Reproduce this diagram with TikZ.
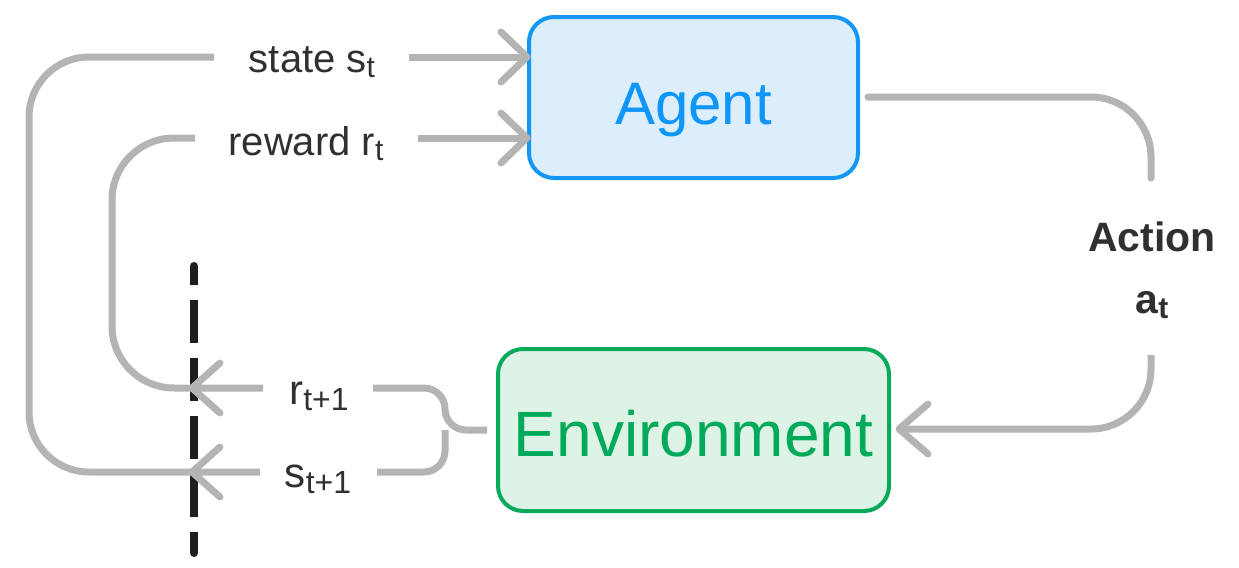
\documentclass[tikz,border=0pt]{standalone}
\usepackage{fontspec}
\setmainfont{Liberation Sans}
\definecolor{edge}{HTML}{B4B4B4}
\definecolor{ink}{HTML}{303030}
\definecolor{dashink}{HTML}{1E1E1E}
\definecolor{agentline}{HTML}{1496F5}
\definecolor{agentfill}{HTML}{DCEEFC}
\definecolor{agenttext}{HTML}{0F96F8}
\definecolor{envline}{HTML}{0AAA5A}
\definecolor{envfill}{HTML}{DCF3E6}
\definecolor{envtext}{HTML}{00AA5A}
% lowered subscript in a given size
\newcommand\lowsub[3]{\raisebox{-#2}{\fontsize{#1}{#1}\selectfont #3}}
\begin{document}
\begin{tikzpicture}[x=0.5pt,y=-0.5pt,
  conn/.style={draw=edge, line width=3.5pt},
  chev/.style={draw=edge, line width=3.5pt, line cap=round, line join=round},
  lbl/.style={text=ink, inner sep=0pt, anchor=base, font=\fontsize{20}{22}\selectfont},
  biglbl/.style={text=ink, inner sep=0pt, anchor=base, font=\fontsize{21}{23}\selectfont},
  actlbl/.style={text=ink, inner sep=0pt, anchor=base, font=\bfseries\fontsize{20.5}{22}\selectfont},
  agentbox/.style={draw=agentline, fill=agentfill, line width=2pt, rounded corners=12.5pt,
    minimum width=164.5pt, minimum height=80.5pt, text=agenttext,
    font=\fontsize{30}{31}\selectfont, text height=26.5pt, text depth=0pt},
  envbox/.style={draw=envline, fill=envfill, line width=2pt, rounded corners=12.5pt,
    minimum width=195.5pt, minimum height=81pt, text=envtext,
    font=\fontsize{32}{33}\selectfont, text height=26.4pt, text depth=0pt},
]
\useasboundingbox (0,0) rectangle (1239,568);

% time boundary
\coordinate (cutTop) at (194,266);
\coordinate (cutBot) at (194,553);
\draw[dashink, line width=4pt, dash pattern=on 21.5pt off 7.5pt, dash phase=12pt] (cutTop) -- (cutBot);
\fill[dashink] (cutTop) circle (2pt) (cutBot) circle (2pt);

% boxes
\node[agentbox] (agent) at (693.5,97.5) {Agent};
\node[envbox] (env) at (693.5,430) {Environment};

% labels
\node[lbl] (st) at (312,72) {state s\lowsub{15pt}{2.5pt}{t}};
\node[lbl] (rt) at (306,155) {reward r\lowsub{15pt}{2.5pt}{t}};
\node[biglbl] (rn) at (319,404) {r\lowsub{16pt}{3pt}{t+1}};
\node[biglbl] (sn) at (318,487) {s\lowsub{16pt}{3pt}{t+1}};
\node[actlbl] (act) at (1152,251) {Action};
\node[actlbl] (at) at (1152,313) {a\lowsub{15pt}{2.5pt}{t}};

% named points along the loops
\coordinate (stL) at (214,57);
\coordinate (stR) at (409,57);
\coordinate (rtL) at (195,138);
\coordinate (rtR) at (418,138);
\coordinate (rnL) at (263,388);
\coordinate (rnR) at (373,388);
\coordinate (snL) at (260,472);
\coordinate (snR) at (377,472);
\coordinate (rnTip) at (192,388);
\coordinate (snTip) at (192,472);
\coordinate (stTip) at (agent.west |- stL);
\coordinate (rtTip) at (agent.west |- rtL);
\coordinate (actA) at (868,97);
\coordinate (actB) at (1151,178);
\coordinate (actC) at (1151,355);
\coordinate (actTip) at ([xshift=4pt]env.east |- 0,429);
\coordinate (brace) at (487,430);

% state loop: s_{t+1} back to state s_t
\draw[conn, rounded corners=30pt] (stL) -- (29,57) -- (29,472) -- (snL);
\draw[conn] (stR) -- (stTip);
% reward loop: r_{t+1} back to reward r_t
\draw[conn, rounded corners=31pt] (rtL) -- (112,138) -- (112,388) -- (rnL);
\draw[conn] (rtR) -- (rtTip);

% action
\draw[conn, rounded corners=30pt, line cap=round] (actA) -- (1151,97) -- (actB);
\draw[conn, rounded corners=30pt] (actC) -- (1151,429) -- (actTip);

% brace from the environment
\draw[conn, rounded corners=10.5pt] (rnR) -- (445,388) -- (445,430) -- (brace);
\draw[conn, rounded corners=10.5pt] (snR) -- (445,472) -- (445,430);

% arrow heads
\draw[chev] ([shift={(-26,-25)}]stTip) -- (stTip) -- ([shift={(-26,25)}]stTip);
\draw[chev] ([shift={(-26,-25)}]rtTip) -- (rtTip) -- ([shift={(-26,25)}]rtTip);
\draw[chev] ([shift={(28,-25)}]rnTip) -- (rnTip) -- ([shift={(28,25)}]rnTip);
\draw[chev] ([shift={(28,-25)}]snTip) -- (snTip) -- ([shift={(28,25)}]snTip);
\draw[chev] ([shift={(29,-25)}]actTip) -- (actTip) -- ([shift={(29,25)}]actTip);
\end{tikzpicture}
\end{document}
